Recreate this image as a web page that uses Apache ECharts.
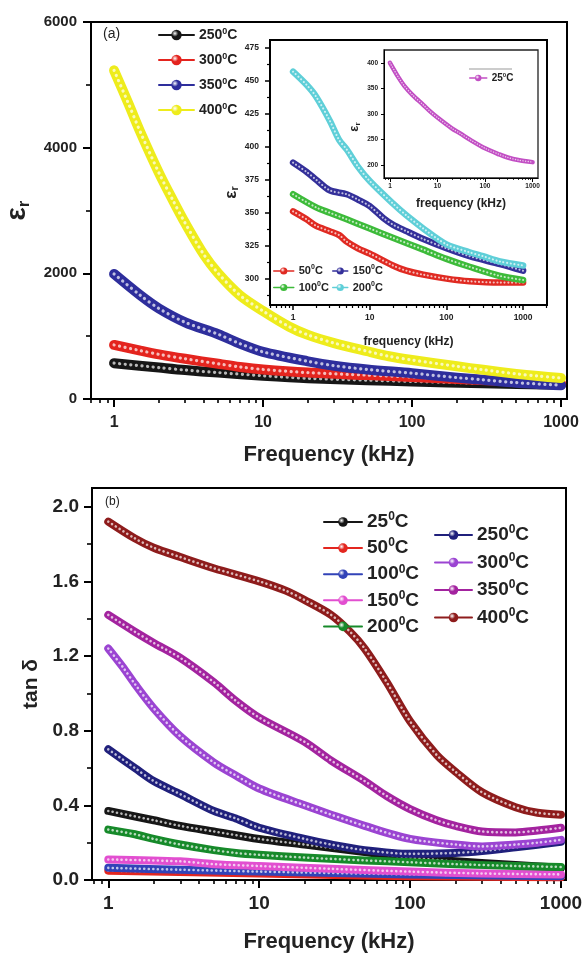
<!DOCTYPE html>
<html>
<head>
<meta charset="utf-8">
<script src="https://cdn.jsdelivr.net/npm/echarts@6/dist/echarts.min.js"></script>
<style>
html,body{margin:0;padding:0;background:#fff}
#chart{width:587px;height:958px}
</style>
</head>
<body>
<div id="chart"></div>
<script>
// ---- (a) main panel: dielectric constant, 250-400 C ----
var fTop250 = [1, 2, 3, 5, 10, 20, 50, 100, 300, 1000];
var erTop250 = [570, 500, 460, 420, 370, 330, 300, 280, 250, 225];
var fTop300 = [1, 1.5, 2, 3, 5, 7, 10, 20, 50, 100, 200, 500, 1000];
var erTop300 = [860, 770, 710, 640, 560, 510, 470, 420, 380, 350, 320, 280, 250];
var fTop350 = [1, 1.5, 2, 3, 5, 7, 10, 20, 30, 50, 100, 200, 300, 500, 1000];
var erTop350 = [1990, 1650, 1440, 1220, 1030, 880, 750, 600, 530, 470, 410, 340, 305, 260, 220];
var fTop400 = [1, 1.25, 1.5, 2, 2.5, 3, 4, 5, 7, 10, 15, 20, 30, 50, 70, 100, 200, 300, 500, 700, 1000];
var erTop400 = [5230, 4700, 4250, 3600, 3150, 2800, 2300, 2000, 1650, 1400, 1150, 1020, 890, 760, 680, 620, 520, 465, 400, 365, 335];

// ---- inset: 50-200 C ----
var fIn50 = [1, 1.5, 2, 3, 4, 5, 7, 10, 20, 30, 50, 100, 200, 500, 1000];
var erIn50 = [351, 345, 340, 336, 333, 328, 323, 319, 310, 306, 303, 300, 298, 297, 297];
var fIn100 = [1, 2, 3, 5, 10, 20, 50, 100, 200, 500, 1000];
var erIn100 = [364, 354, 350, 345, 338, 331, 322, 315, 309, 302, 299];
var fIn150 = [1, 1.5, 2, 3, 5, 7, 10, 15, 20, 30, 50, 100, 200, 500, 1000];
var erIn150 = [388, 381, 375, 367, 364, 360, 355, 346, 341, 336, 330, 323, 317, 311, 306];
var fIn200 = [1, 1.5, 2, 3, 4, 5, 7, 10, 20, 30, 50, 100, 200, 300, 500, 1000];
var erIn200 = [457, 447, 438, 420, 405, 398, 385, 374, 357, 348, 338, 326, 320, 317, 313, 310];

// ---- inset of inset: 25 C ----
var fIn25 = [1, 1.5, 2, 3, 5, 7, 10, 20, 30, 50, 100, 200, 300, 500, 1000];
var erIn25 = [400, 372, 355, 337, 318, 305, 293, 272, 262, 249, 233, 221, 215, 210, 206];

// ---- (b) loss tangent ----
var fTan25 = [1, 2, 3, 5, 10, 20, 50, 100, 200, 500, 1000];
var tan25 = [0.37, 0.32, 0.29, 0.26, 0.22, 0.19, 0.15, 0.12, 0.10, 0.08, 0.065];
var fTan50 = [1, 10, 100, 1000];
var tan50 = [0.05, 0.035, 0.02, 0.015];
var fTan100 = [1, 3, 10, 100, 1000];
var tan100 = [0.065, 0.055, 0.045, 0.03, 0.02];
var fTan150 = [1, 3, 5, 10, 30, 100, 300, 1000];
var tan150 = [0.11, 0.10, 0.085, 0.075, 0.06, 0.045, 0.035, 0.03];
var fTan200 = [1, 1.5, 2, 3, 5, 7, 10, 20, 50, 100, 200, 500, 1000];
var tan200 = [0.27, 0.245, 0.22, 0.19, 0.16, 0.145, 0.135, 0.12, 0.105, 0.095, 0.085, 0.075, 0.07];
var fTan250 = [1, 1.5, 2, 3, 5, 7, 10, 20, 30, 50, 100, 200, 300, 500, 1000];
var tan250 = [0.70, 0.60, 0.53, 0.46, 0.37, 0.33, 0.28, 0.22, 0.19, 0.16, 0.14, 0.145, 0.155, 0.175, 0.205];
var fTan300 = [1, 1.25, 1.5, 2, 3, 5, 7, 10, 20, 30, 50, 100, 200, 300, 500, 700, 1000];
var tan300 = [1.24, 1.14, 1.05, 0.92, 0.77, 0.63, 0.56, 0.49, 0.40, 0.35, 0.29, 0.22, 0.19, 0.18, 0.19, 0.20, 0.215];
var fTan350 = [1, 1.5, 2, 3, 5, 7, 10, 20, 30, 50, 70, 100, 150, 200, 300, 500, 700, 1000];
var tan350 = [1.42, 1.33, 1.27, 1.19, 1.06, 0.96, 0.87, 0.74, 0.64, 0.53, 0.45, 0.38, 0.32, 0.29, 0.26, 0.255, 0.265, 0.28];
var fTan400 = [1, 1.5, 2, 3, 5, 10, 15, 20, 30, 40, 50, 70, 100, 150, 200, 300, 500, 700, 1000];
var tan400 = [1.92, 1.83, 1.78, 1.73, 1.67, 1.60, 1.55, 1.50, 1.42, 1.33, 1.24, 1.06, 0.85, 0.67, 0.58, 0.47, 0.39, 0.36, 0.35];

// tick labels
var decadeTicks = [1, 10, 100, 1000];
var inAYTicks = [300, 325, 350, 375, 400, 425, 450, 475];
var inBYTicks = [200, 250, 300, 350, 400];
var tanYTicks = [0, 0.4, 0.8, 1.2, 1.6, 2.0];

var ec = echarts.init(document.getElementById('chart'));
var FONT = '"Liberation Sans", Arial, sans-serif';
var TXT = '#222';

function lg(v) { return Math.log10(v); }
function pts(f, v) { return f.map(function (x, i) { return [lg(x), v[i]]; }); }
function minorLog(lo, hi) {
    var out = [];
    for (var e = -1; e <= 3; e++) {
        for (var k = 2; k <= 9; k++) {
            var f = k * Math.pow(10, e);
            if (f >= lo && f <= hi) out.push(lg(f));
        }
    }
    return out;
}
function sphere(c) {
    return new echarts.graphic.RadialGradient(0.35, 0.35, 0.7, [
        { offset: 0, color: '#ffffff' }, { offset: 0.45, color: c }, { offset: 1, color: c }
    ]);
}

var series = [];
// one curve = thick coloured line + dotted highlight so it reads as a row of beads
function curve(name, f, v, color, xi, yi, w, z) {
    var d = pts(f, v);
    series.push({
        name: name, type: 'line', xAxisIndex: xi, yAxisIndex: yi, data: d,
        smooth: 0.3, symbol: 'circle', showSymbol: false,
        lineStyle: { color: color, width: w, cap: 'round', join: 'round' },
        itemStyle: { color: sphere(color) },
        z: z, silent: true, animation: false
    });
    series.push({
        name: name + ' hl', type: 'line', xAxisIndex: xi, yAxisIndex: yi, data: d,
        smooth: 0.3, showSymbol: false,
        lineStyle: { color: 'rgba(255,255,255,0.7)', width: w * 0.32, cap: 'round', type: [0.1, w * 0.55] },
        z: z, silent: true, animation: false
    });
}

curve('250°C', fTop250, erTop250, '#161616', 0, 0, 10, 2);
curve('300°C', fTop300, erTop300, '#e4241e', 0, 0, 10, 2);
curve('350°C', fTop350, erTop350, '#2e2e9c', 0, 0, 10, 2);
curve('400°C', fTop400, erTop400, '#eeec1c', 0, 0, 10, 2);

curve('50°C', fIn50, erIn50, '#e02a22', 2, 1, 6.5, 11);
curve('100°C', fIn100, erIn100, '#3dbb3a', 2, 1, 6.5, 11);
curve('150°C', fIn150, erIn150, '#34309a', 2, 1, 6.5, 11);
curve('200°C', fIn200, erIn200, '#5fcfd8', 2, 1, 6.5, 11);

curve('25°C ', fIn25, erIn25, '#c24fc4', 4, 3, 4.5, 21);

curve('25°C', fTan25, tan25, '#161616', 6, 4, 8, 2);
curve('50°C ', fTan50, tan50, '#e3261f', 6, 4, 8, 2);
curve('100°C ', fTan100, tan100, '#3243b8', 6, 4, 8, 2);
curve('150°C ', fTan150, tan150, '#e24fd0', 6, 4, 8, 2);
curve('200°C ', fTan200, tan200, '#168a2a', 6, 4, 8, 2);
curve('250°C ', fTan250, tan250, '#20207c', 6, 4, 8, 2);
curve('300°C ', fTan300, tan300, '#9b44d2', 6, 4, 8, 2);
curve('350°C ', fTan350, tan350, '#a3239f', 6, 4, 8, 2);
curve('400°C ', fTan400, tan400, '#8e1c1c', 6, 4, 8, 2);

// log frequency axis = value axis over log10(f), major + minor tick layers
function logX(grid, lo, hi, fs, margin, majorLen, minorLen, lw, z, name, nameFs, nameGap) {
    var major = decadeTicks.map(lg);
    return [{
        gridIndex: grid, type: 'value', position: 'bottom', min: lg(lo), max: lg(hi), z: z,
        axisLine: { onZero: false, lineStyle: { color: '#000', width: lw } },
        axisTick: { customValues: major, length: majorLen, lineStyle: { color: '#000', width: lw } },
        axisLabel: {
            customValues: major, margin: margin, fontFamily: FONT, fontSize: fs, fontWeight: 'bold', color: TXT,
            formatter: function (v) { return String(Math.round(Math.pow(10, v))); }
        },
        splitLine: { show: false },
        name: name, nameLocation: 'middle', nameGap: nameGap,
        nameTextStyle: { fontFamily: FONT, fontSize: nameFs, fontWeight: 'bold', color: TXT }
    }, {
        gridIndex: grid, type: 'value', position: 'bottom', min: lg(lo), max: lg(hi), z: z,
        axisLine: { show: false, onZero: false },
        axisTick: { customValues: minorLog(lo, hi), length: minorLen, lineStyle: { color: '#000', width: lw * 0.8 } },
        axisLabel: { show: false },
        splitLine: { show: false }
    }];
}

function epsName(e, r, lh) {
    return {
        e: { fontFamily: FONT, fontSize: e, fontWeight: 'bold', color: TXT, lineHeight: lh, verticalAlign: 'middle' },
        r: { fontFamily: FONT, fontSize: r, fontWeight: 'bold', color: TXT, verticalAlign: 'bottom' }
    };
}

var xAxes = [].concat(
    logX(0, 0.7, 1097, 16, 16, 8, 4, 2, 0, 'Frequency (kHz)', 22, 45),
    logX(1, 0.5, 2050, 8.5, 8, 5, 3, 1.5, 12, 'frequency (kHz)', 12, 31),
    logX(2, 0.75, 1300, 6.5, 5, 4, 2, 1, 22, 'frequency (kHz)', 12, 20),
    logX(3, 0.78, 1080, 19, 14, 8, 4, 2, 0, 'Frequency (kHz)', 22, 51)
);

var yAxes = [{
    gridIndex: 0, type: 'value', position: 'left', min: 0, max: 6000, interval: 2000,
    axisLine: { show: true, onZero: false, lineStyle: { color: '#000', width: 2 } },
    axisTick: { show: true, length: 8, lineStyle: { color: '#000', width: 2 } },
    minorTick: { show: true, splitNumber: 2, length: 5, lineStyle: { color: '#000', width: 1.6 } },
    axisLabel: {
        margin: 14, fontFamily: FONT, fontSize: 15, fontWeight: 'bold', color: TXT,
        formatter: function (v) { return String(v); }
    },
    splitLine: { show: false },
    name: '{e|ε}{r|r}', nameLocation: 'middle', nameRotate: 90, nameGap: 52,
    nameTextStyle: { rich: epsName(28, 17, 30) }
}, {
    gridIndex: 1, type: 'value', position: 'left', min: 280, max: 481, z: 12,
    axisLine: { show: true, onZero: false, lineStyle: { color: '#000', width: 1.5 } },
    axisTick: { show: true, customValues: inAYTicks, length: 5, lineStyle: { color: '#000', width: 1.5 } },
    axisLabel: { customValues: inAYTicks, margin: 11, fontFamily: FONT, fontSize: 8.5, fontWeight: 'bold', color: TXT },
    splitLine: { show: false },
    name: '{e|ε}{r|r}', nameLocation: 'middle', nameRotate: 90, nameGap: 27,
    nameTextStyle: { rich: epsName(17, 11, 20), padding: [0, 40, 0, 0] }
}, {
    gridIndex: 1, type: 'value', position: 'left', min: 280, max: 481, z: 12,
    axisLine: { show: false, onZero: false },
    axisTick: { show: true, customValues: inAYTicks.map(function (v) { return v - 12.5; }), length: 3, lineStyle: { color: '#000', width: 1.2 } },
    axisLabel: { show: false }, splitLine: { show: false }
}, {
    gridIndex: 2, type: 'value', position: 'left', min: 175, max: 425, z: 22,
    axisLine: { show: true, onZero: false, lineStyle: { color: '#000', width: 1 } },
    axisTick: { show: true, customValues: inBYTicks, length: 3, lineStyle: { color: '#000', width: 1 } },
    axisLabel: { customValues: inBYTicks, margin: 6, fontFamily: FONT, fontSize: 6.5, fontWeight: 'bold', color: TXT },
    splitLine: { show: false },
    name: '{e|ε}{r|r}', nameLocation: 'middle', nameRotate: 90, nameGap: 22,
    nameTextStyle: { rich: epsName(13, 8, 16), padding: [0, 26, 0, 0] }
}, {
    gridIndex: 3, type: 'value', position: 'left', min: 0, max: 2.1, z: 0,
    axisLine: { show: true, onZero: false, lineStyle: { color: '#000', width: 2 } },
    axisTick: { show: true, customValues: tanYTicks, length: 8, lineStyle: { color: '#000', width: 2 } },
    axisLabel: {
        customValues: tanYTicks, margin: 13, fontFamily: FONT, fontSize: 19, fontWeight: 'bold', color: TXT,
        formatter: function (v) { return v.toFixed(1); }
    },
    splitLine: { show: false },
    name: 'tan δ', nameLocation: 'middle', nameRotate: 90, nameGap: 48,
    nameTextStyle: { fontFamily: FONT, fontSize: 21, fontWeight: 'bold', color: TXT }
}, {
    gridIndex: 3, type: 'value', position: 'left', min: 0, max: 2.1,
    axisLine: { show: false, onZero: false },
    axisTick: { show: true, customValues: tanYTicks.slice(0, 5).map(function (v) { return v + 0.2; }), length: 5, lineStyle: { color: '#000', width: 1.6 } },
    axisLabel: { show: false }, splitLine: { show: false }
}];

function degFmt(n) {
    var t = n.trim().replace('°C', '');
    return '{t|' + t + '}{s|0}{t|C}';
}
function legendCol(names, left, top, fs, lh, gap, iw, ih, z) {
    return {
        data: names, orient: 'vertical', left: left, top: top, padding: 0,
        itemGap: gap, itemWidth: iw, itemHeight: ih, selectedMode: false, z: z,
        lineStyle: { width: ih > 10 ? 2 : 1.5 },
        formatter: degFmt,
        textStyle: {
            rich: {
                t: { fontFamily: FONT, fontSize: fs, fontWeight: 'bold', lineHeight: lh, color: TXT },
                s: { fontFamily: FONT, fontSize: Math.round(fs * 0.62), fontWeight: 'bold', verticalAlign: 'top', color: TXT }
            }
        }
    };
}

var option = {
    backgroundColor: '#fff',
    animation: false,
    grid: [
        { left: 91, top: 22, width: 476, height: 377, outerBoundsMode: 'none', show: true, borderColor: '#000', borderWidth: 2 },
        { left: 270, top: 40, width: 277, height: 265, outerBoundsMode: 'none', show: true, backgroundColor: '#fff', borderColor: '#000', borderWidth: 2, z: 10 },
        { left: 384, top: 50, width: 154, height: 128, outerBoundsMode: 'none', show: true, backgroundColor: '#fff', borderColor: '#222', borderWidth: 1.3, z: 20 },
        { left: 92, top: 488, width: 474, height: 392, outerBoundsMode: 'none', show: true, borderColor: '#000', borderWidth: 2 }
    ],
    xAxis: xAxes,
    yAxis: yAxes,
    legend: [
        legendCol(['250°C', '300°C', '350°C', '400°C'], 158, 27, 14, 16, 10, 35, 13, 5),
        legendCol(['50°C', '100°C'], 273, 264, 11, 14, 4, 20, 9, 15),
        legendCol(['150°C', '200°C'], 332, 264, 11, 14, 4, 15, 9, 15),
        legendCol(['25°C '], 469, 72, 10, 12, 4, 17, 8, 25),
        legendCol(['25°C', '50°C ', '100°C ', '150°C ', '200°C '], 323, 511, 19, 22, 5.6, 38, 12, 5),
        legendCol(['250°C ', '300°C ', '350°C ', '400°C '], 434, 524, 19, 22, 7, 37, 12, 5)
    ],
    graphic: [
        { type: 'text', left: 103, top: 27, z: 30, style: { text: '(a)', font: '14px ' + FONT, fill: TXT } },
        { type: 'text', left: 105, top: 496, z: 30, style: { text: '(b)', font: '12px ' + FONT, fill: TXT } },
        { type: 'line', z: 30, shape: { x1: 469, y1: 69, x2: 512, y2: 69 }, style: { stroke: '#999', lineWidth: 1 } }
    ],
    series: series
};
ec.setOption(option);
</script>
</body>
</html>
